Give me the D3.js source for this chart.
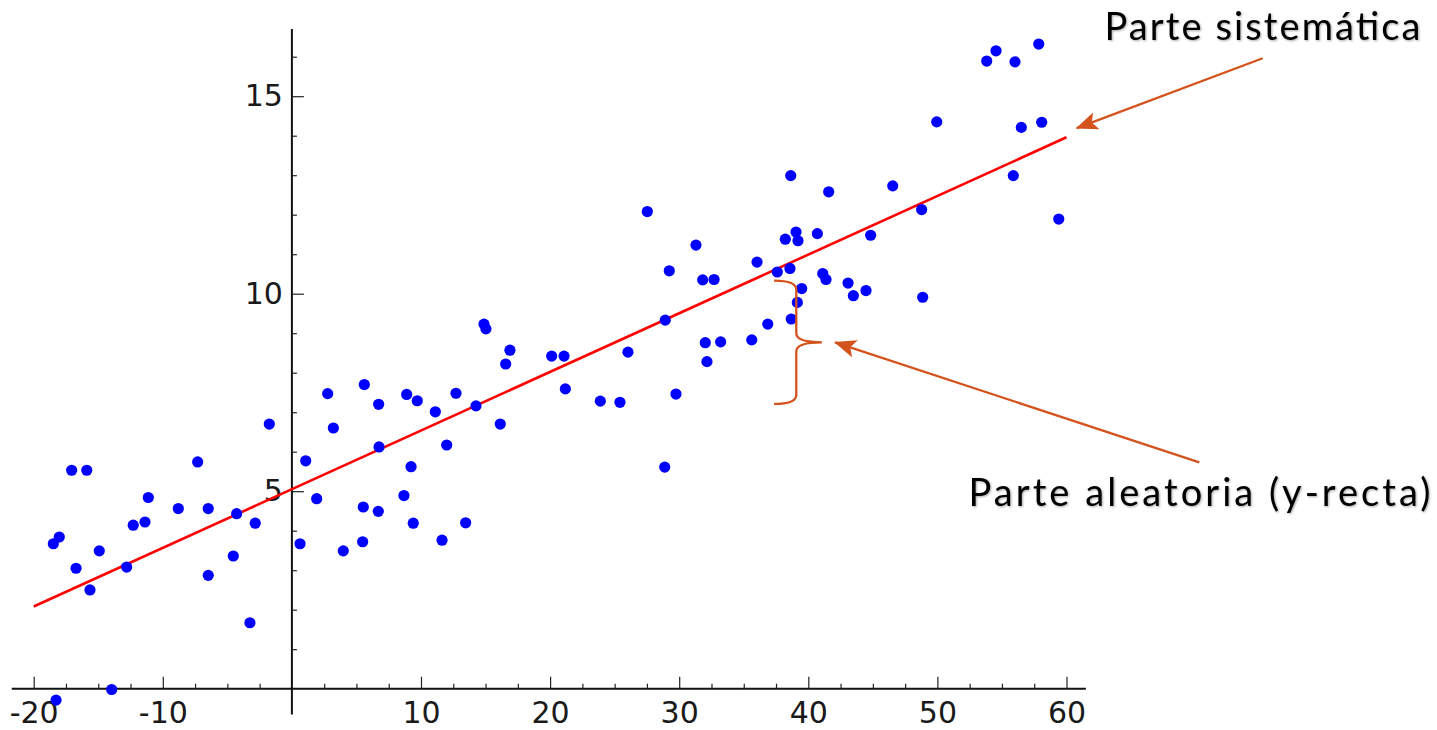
<!DOCTYPE html>
<html lang="es">
<head>
<meta charset="utf-8">
<title>Regresión lineal: parte sistemática y parte aleatoria</title>
<script src="https://cdn.jsdelivr.net/npm/d3@7"></script>
<style>
  html, body { margin: 0; padding: 0; background: #ffffff; }
  svg { display: block; }
  .tick-label { font-family: "DejaVu Sans", sans-serif; font-size: 30px; fill: #1a1a1a; }
  .note { font-family: Lato, "Noto Sans", sans-serif; font-size: 38px; fill: #000;
          filter: drop-shadow(1.5px 1.5px 1px rgba(0,0,0,0.35)); }
</style>
</head>
<body>
<svg id="chart" width="1437" height="730"></svg>
<script>
// Observations (x, y)
const xs = [
  -1.75, -17.06, -15.89, -7.30, 1.07, -11.12, -8.80, -6.48, 1.92, -12.29,
  -11.38, -4.28, -2.84, -18.48, -18.02, -14.92, 0.63, -16.72, -12.80, -4.54,
  -6.48, -15.64, -3.25, -13.96, -18.27, 14.88, 15.03, 16.89, 16.56, 20.12,
  21.08, 26.03, 32.02, 2.77, 5.61, 6.72, 8.89, 9.71, 12.71, 11.11,
  14.26, 16.14, 21.18, 23.89, 25.41, 29.75, 3.21, 6.75, 11.99, 9.23,
  28.88, 5.53, 6.69, 8.68, 9.40, 13.46, 11.63, 3.98, 5.48, 38.64,
  41.58, 46.54, 27.53, 31.30, 38.22, 39.05, 39.20, 40.70, 44.83, 29.23,
  36.03, 37.60, 38.58, 31.82, 32.70, 41.12, 41.37, 43.08, 44.47, 43.49,
  39.49, 39.15, 38.68, 36.86, 28.92, 35.62, 33.21, 32.15, 54.54, 53.82,
  56.01, 57.85, 49.95, 56.50, 58.08, 55.88, 48.78, 59.40, 48.86
];
const ys = [
  6.70, 5.53, 5.53, 5.74, 5.77, 4.84, 4.56, 4.56, 4.81, 4.14,
  4.22, 4.43, 4.19, 3.67, 3.84, 3.49, 3.67, 3.05, 3.08, 3.36,
  2.87, 2.50, 1.67, -0.02, -0.29, 9.23, 9.11, 8.57, 8.22, 8.42,
  8.42, 8.52, 8.76, 7.47, 7.70, 7.20, 7.45, 7.29, 7.48, 7.01,
  7.16, 6.70, 7.59, 7.28, 7.25, 7.46, 6.60, 6.12, 6.17, 5.62,
  5.61, 4.60, 4.49, 4.89, 4.19, 4.20, 3.76, 3.49, 3.72, 12.99,
  12.58, 12.73, 12.08, 11.23, 11.38, 11.56, 11.34, 11.52, 11.48, 10.58,
  10.80, 10.55, 10.64, 10.35, 10.36, 10.51, 10.36, 10.27, 10.08, 9.95,
  10.13, 9.78, 9.36, 9.23, 9.33, 8.83, 8.78, 8.28, 16.15, 15.89,
  15.87, 16.32, 14.35, 14.21, 14.34, 12.99, 12.13, 11.89, 9.91
];

// Fitted line, drawn between its two end points
const fitX = [-20, 60];
const fitY = [2.08, 13.96];

// Axis ticks
const xMajor = [-20, -10, 10, 20, 30, 40, 50, 60];
const xMinor = d3.range(-20, 60.01, 2.5).filter(v => v % 10 !== 0);
const yMajor = [5, 10, 15];
const yMinor = d3.range(1, 17).filter(v => v % 5 !== 0);
const xExtent = [-21.7, 61.5];
const yExtent = [-0.65, 16.7];

// Annotations (data units)
const braceX = [37.35, 39.07, 41.05];   // open ends, spine, tip
const braceY = [10.33, 8.77, 7.21];     // top, middle, bottom
const noteText = ["Parte sistemática", "Parte aleatoria (y-recta)"];
const noteAt = [[75.18, 16.42], [70.30, 4.62]];
const noteWidth = [316, 462];           // rendered text widths, px
const arrowFrom = [[75.2, 15.96], [70.29, 5.73]];
const arrowTo = [[60.79, 14.19], [42.07, 8.77]];

const orange = "#d4531d";

const svg = d3.select("#chart");
const x = d3.scaleLinear().domain([-20, 60]).range([33.7, 1066.5]);
const y = d3.scaleLinear().domain([0, 15]).range([688.7, 96.2]);

// Axis lines
svg.append("line")
  .attr("x1", x(xExtent[0])).attr("x2", x(xExtent[1]))
  .attr("y1", y(0)).attr("y2", y(0))
  .attr("stroke", "#111").attr("stroke-width", 2);
svg.append("line")
  .attr("x1", x(0)).attr("x2", x(0))
  .attr("y1", y(yExtent[0])).attr("y2", y(yExtent[1]))
  .attr("stroke", "#111").attr("stroke-width", 2);

// X axis: ticks point up, labels below
const gxMinor = svg.append("g").attr("transform", `translate(0,${y(0)})`)
  .call(d3.axisBottom(x).tickValues(xMinor).tickFormat("").tickSizeInner(-5).tickSizeOuter(0));
const gx = svg.append("g").attr("transform", `translate(0,${y(0)})`)
  .call(d3.axisBottom(x).tickValues(xMajor).tickFormat(d => d < 0 ? "-" + Math.abs(d) : String(d))
    .tickSizeInner(-12).tickSizeOuter(0).tickPadding(13));

// Y axis: ticks point right, labels left
const gyMinor = svg.append("g").attr("transform", `translate(${x(0)},0)`)
  .call(d3.axisLeft(y).tickValues(yMinor).tickFormat("").tickSizeInner(-5).tickSizeOuter(0));
const gy = svg.append("g").attr("transform", `translate(${x(0)},0)`)
  .call(d3.axisLeft(y).tickValues(yMajor).tickSizeInner(-12).tickSizeOuter(0).tickPadding(9));

[gx, gxMinor, gy, gyMinor].forEach(g => {
  g.select(".domain").remove();
  g.selectAll(".tick line").attr("stroke", "#222").attr("stroke-width", 1.2);
  g.selectAll(".tick text").attr("class", "tick-label").attr("font-size", null).attr("font-family", null);
});
gx.selectAll(".tick text").attr("dy", "0.71em");

// Regression line
svg.append("path")
  .datum(fitX.map((v, i) => [v, fitY[i]]))
  .attr("fill", "none")
  .attr("stroke", "#ff0000")
  .attr("stroke-width", 2.6)
  .attr("d", d3.line().x(d => x(d[0])).y(d => y(d[1])));

// Points
svg.append("g").selectAll("circle")
  .data(xs.map((v, i) => [v, ys[i]]))
  .join("circle")
  .attr("cx", d => x(d[0]))
  .attr("cy", d => y(d[1]))
  .attr("r", 5.6)
  .attr("fill", "#0000ff");

// Curly brace marking the residual
const bx0 = x(braceX[0]), bx1 = x(braceX[1]), bx2 = x(braceX[2]);
const by0 = y(braceY[0]), by1 = y(braceY[1]), by2 = y(braceY[2]);
const c = 9;
const brace = d3.path();
brace.moveTo(bx0, by0);
brace.quadraticCurveTo(bx1, by0, bx1, by0 + c);
brace.lineTo(bx1, by1 - c);
brace.quadraticCurveTo(bx1, by1, bx2, by1);
brace.quadraticCurveTo(bx1, by1, bx1, by1 + c);
brace.lineTo(bx1, by2 - c);
brace.quadraticCurveTo(bx1, by2, bx0, by2);
svg.append("path")
  .attr("d", brace.toString())
  .attr("fill", "none")
  .attr("stroke", orange)
  .attr("stroke-width", 2.3);

// Arrows
svg.append("defs").append("marker")
  .attr("id", "head")
  .attr("markerUnits", "userSpaceOnUse")
  .attr("viewBox", "0 0 22 18")
  .attr("refX", 21).attr("refY", 9)
  .attr("markerWidth", 22).attr("markerHeight", 18)
  .attr("orient", "auto")
  .append("path")
  .attr("d", "M0,0 L22,9 L0,18 L5,9 Z")
  .attr("fill", orange);

svg.append("g").selectAll("line")
  .data(arrowFrom.map((f, i) => [f, arrowTo[i]]))
  .join("line")
  .attr("x1", d => x(d[0][0])).attr("y1", d => y(d[0][1]))
  .attr("x2", d => x(d[1][0])).attr("y2", d => y(d[1][1]))
  .attr("stroke", orange)
  .attr("stroke-width", 2.3)
  .attr("marker-end", "url(#head)");

// Notes
svg.append("g").selectAll("text")
  .data(noteText)
  .join("text")
  .attr("class", "note")
  .attr("text-anchor", "middle")
  .attr("x", (d, i) => x(noteAt[i][0]))
  .attr("y", (d, i) => y(noteAt[i][1]))
  .attr("textLength", (d, i) => noteWidth[i])
  .attr("lengthAdjust", "spacing")
  .text(d => d);
</script>
</body>
</html>
